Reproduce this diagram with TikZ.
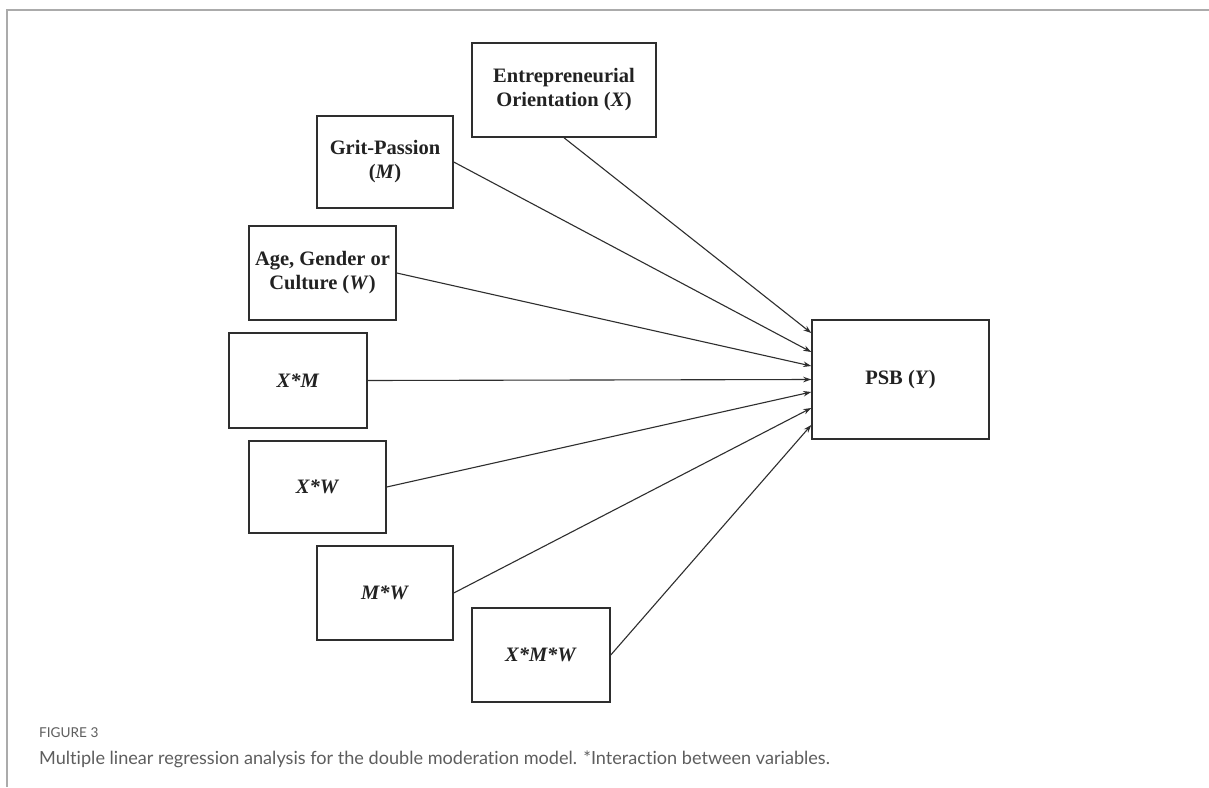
\documentclass[tikz,border=0pt]{standalone}
\usepackage{fontspec}
\setmainfont{Liberation Serif}
\newfontfamily\capfont[Ligatures=CommonOff]{Lato}
\usetikzlibrary{arrows.meta}
\definecolor{boxline}{HTML}{2E2E2E}
\definecolor{textdark}{HTML}{222222}
\definecolor{framegray}{HTML}{ABABAB}
\definecolor{capgray}{HTML}{5E5E5E}
\begin{document}
\begin{tikzpicture}[x=1pt,y=-1pt,
  var/.style={draw=boxline, line width=1.5pt, fill=white, inner sep=0pt,
    align=center, text=textdark, font=\fontsize{20.5}{24}\selectfont\bfseries},
  link/.style={draw=boxline, line width=1.1pt, -{Stealth[length=8pt,width=5.5pt]}},
  captitle/.style={anchor=base west, inner sep=0pt, text=capgray,
    font=\capfont\fontsize{13.6}{15}\selectfont},
  captext/.style={anchor=base west, inner sep=0pt, text=capgray,
    font=\capfont\fontsize{18.1}{21}\selectfont}]
\useasboundingbox (0,0) rectangle (1209,787);
\fill[white] (0,0) rectangle (1209,787);
% page frame
\draw[framegray, line width=1.5pt] (7,787) -- (7,10) -- (1209,10);

% predictor boxes
\node[var, minimum width=184pt, minimum height=94pt] (eo)  at (564,90)    {Entrepreneurial\\Orientation (\textit{X})};
\node[var, minimum width=136pt, minimum height=92pt] (gp)  at (385,162)   {Grit-Passion\\(\textit{M})};
\node[var, minimum width=147pt, minimum height=94pt] (agc) at (322.5,273) {Age, Gender or\\Culture (\textit{W})};
\node[var, minimum width=138pt, minimum height=95pt] (xm)  at (298,380.5) {\textit{X*M}};
\node[var, minimum width=137pt, minimum height=92pt] (xw)  at (317.5,487) {\textit{X*W}};
\node[var, minimum width=136pt, minimum height=94pt] (mw)  at (385,593)   {\textit{M*W}};
\node[var, minimum width=138pt, minimum height=94pt] (xmw) at (541,655)   {\textit{X*M*W}};

% outcome box
\node[var, minimum width=177pt, minimum height=119pt] (psb) at (900.5,379.5) {PSB (\textit{Y})};

% paths into the outcome
\draw[link] (eo.south) -- ([yshift=46.5pt]psb.west);
\draw[link] (gp.east)  -- ([yshift=27.5pt]psb.west);
\draw[link] (agc.east) -- ([yshift=13.5pt]psb.west);
\draw[link] (xm.east)  -- ([yshift=0pt]psb.west);
\draw[link] (xw.east)  -- ([yshift=-12.5pt]psb.west);
\draw[link] (mw.east)  -- ([yshift=-28.5pt]psb.west);
\draw[link] (xmw.east) -- ([yshift=-45.5pt]psb.west);

% caption
\node[captitle] (fig) at (39,737) {FIGURE 3};
\node[captext] (cap) at (39,764) {Multiple linear regression analysis for the double moderation model. *Interaction between variables.};
\end{tikzpicture}
\end{document}
